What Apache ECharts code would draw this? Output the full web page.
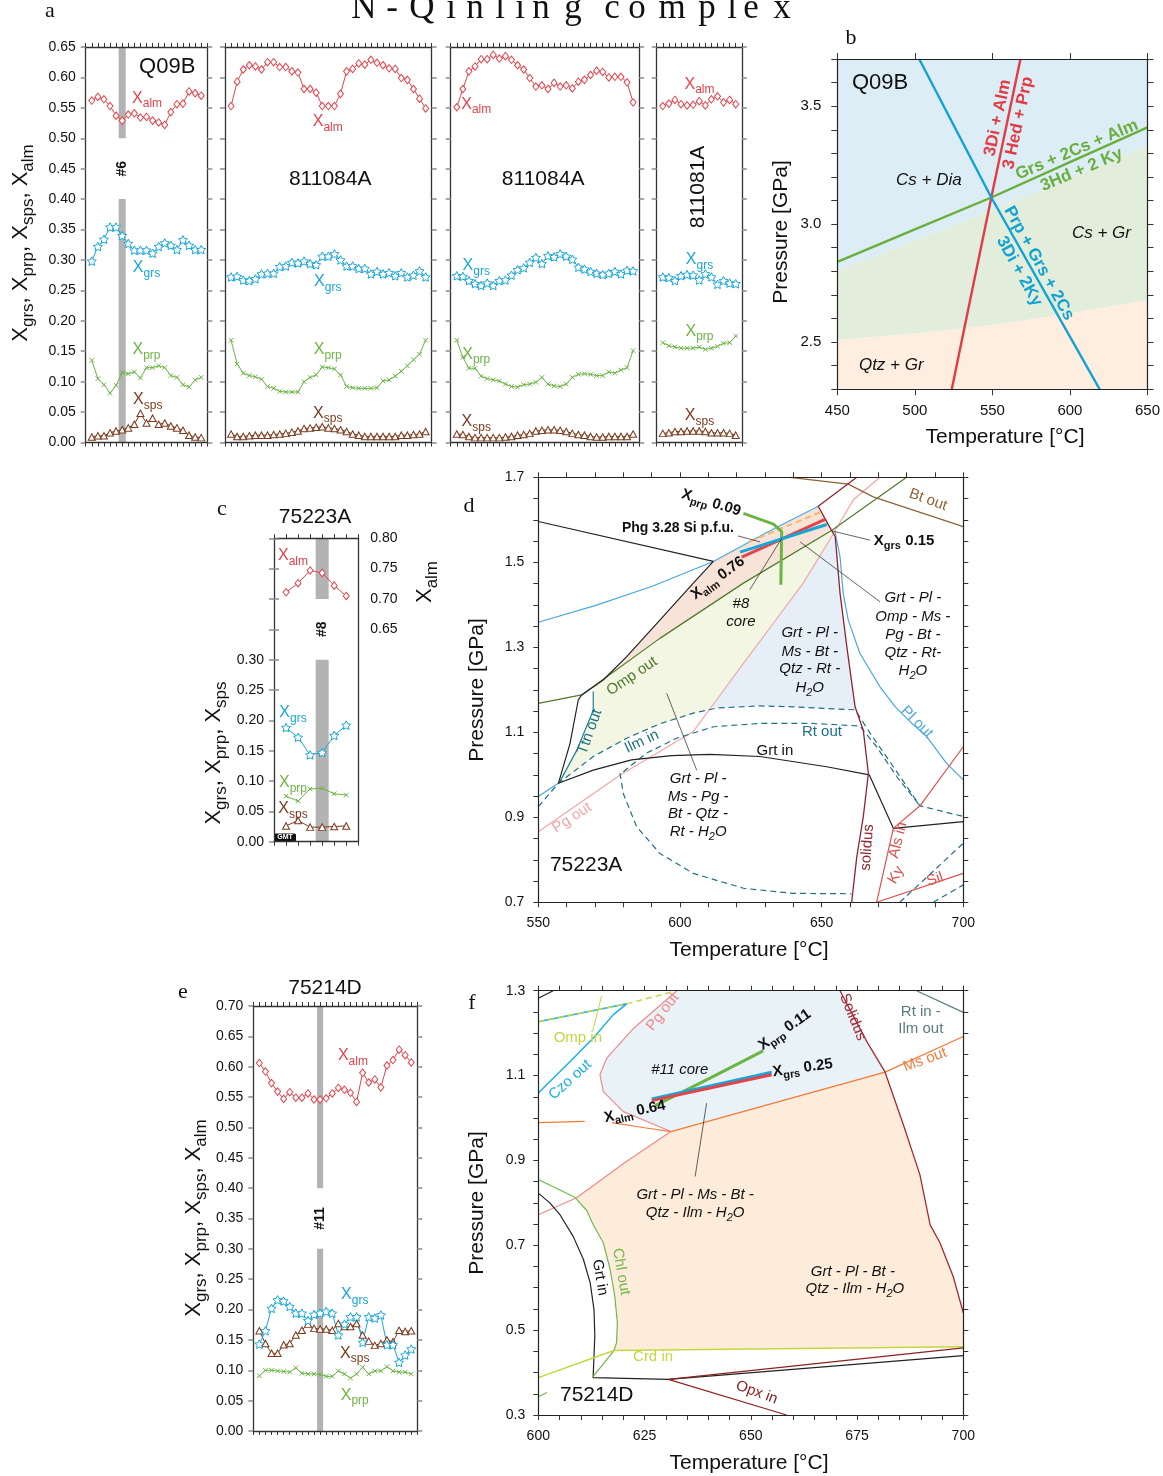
<!DOCTYPE html>
<html>
<head>
<meta charset="utf-8">
<script src="https://cdn.jsdelivr.net/npm/echarts@6/dist/echarts.min.js"></script>
<style>
  html, body { margin: 0; padding: 0; background: #fff; }
  #chart { width: 1163px; height: 1476px; }
</style>
</head>
<body>
<div id="chart"></div>
<script>
// ---------- garnet profiles (panel a, c, e) ----------
const q09bAlm = [0.562,0.568,0.564,0.553,0.537,0.529,0.539,0.541,0.534,0.535,0.529,0.526,0.522,0.543,0.556,0.557,0.577,0.574,0.570];
const q09bGrs = [0.298,0.322,0.334,0.354,0.354,0.340,0.327,0.316,0.316,0.316,0.311,0.322,0.328,0.324,0.317,0.333,0.324,0.317,0.317];
const q09bPrp = [0.135,0.105,0.095,0.081,0.094,0.115,0.113,0.116,0.106,0.123,0.123,0.126,0.123,0.110,0.107,0.095,0.091,0.103,0.107];
const q09bSps = [0.009,0.011,0.011,0.016,0.019,0.021,0.024,0.030,0.048,0.032,0.040,0.030,0.032,0.027,0.024,0.020,0.012,0.009,0.008];

const s084aAlm = [0.553,0.593,0.613,0.620,0.618,0.613,0.625,0.625,0.617,0.617,0.610,0.608,0.581,0.581,0.575,0.553,0.553,0.553,0.573,0.610,0.614,0.623,0.621,0.629,0.624,0.620,0.615,0.614,0.599,0.596,0.581,0.565,0.549];
const s084aGrs = [0.272,0.273,0.267,0.266,0.269,0.277,0.278,0.278,0.289,0.290,0.296,0.295,0.298,0.294,0.292,0.306,0.306,0.310,0.300,0.290,0.290,0.286,0.286,0.277,0.281,0.277,0.279,0.274,0.279,0.272,0.275,0.282,0.272];
const s084aPrp = [0.168,0.129,0.114,0.110,0.108,0.104,0.092,0.089,0.084,0.083,0.083,0.083,0.100,0.107,0.111,0.124,0.123,0.121,0.111,0.092,0.090,0.089,0.089,0.089,0.090,0.101,0.103,0.109,0.117,0.126,0.136,0.145,0.168];
const s084aSps = [0.014,0.010,0.010,0.011,0.012,0.012,0.012,0.013,0.014,0.015,0.017,0.019,0.023,0.024,0.025,0.026,0.024,0.023,0.021,0.018,0.014,0.012,0.010,0.010,0.010,0.010,0.010,0.010,0.012,0.012,0.013,0.014,0.018];

const s084bAlm = [0.551,0.581,0.610,0.618,0.630,0.630,0.637,0.631,0.635,0.629,0.620,0.613,0.599,0.585,0.587,0.581,0.591,0.585,0.587,0.582,0.593,0.596,0.604,0.611,0.609,0.600,0.601,0.601,0.592,0.559];
const s084bGrs = [0.274,0.273,0.266,0.261,0.258,0.262,0.258,0.266,0.267,0.275,0.284,0.287,0.296,0.304,0.294,0.307,0.305,0.310,0.306,0.301,0.288,0.285,0.281,0.278,0.276,0.278,0.281,0.277,0.283,0.282];
const s084bPrp = [0.168,0.140,0.122,0.122,0.109,0.105,0.103,0.101,0.096,0.092,0.091,0.095,0.096,0.099,0.107,0.096,0.093,0.092,0.096,0.107,0.112,0.113,0.112,0.110,0.110,0.116,0.114,0.119,0.123,0.151];
const s084bSps = [0.014,0.013,0.010,0.008,0.008,0.008,0.008,0.008,0.009,0.010,0.012,0.013,0.015,0.019,0.020,0.021,0.021,0.020,0.018,0.015,0.013,0.012,0.010,0.009,0.009,0.010,0.010,0.010,0.010,0.014];

const s081Alm = [0.553,0.557,0.563,0.556,0.554,0.555,0.561,0.554,0.564,0.569,0.559,0.563,0.556];
const s081Grs = [0.272,0.271,0.266,0.274,0.276,0.275,0.267,0.277,0.272,0.260,0.266,0.262,0.261];
const s081Prp = [0.164,0.159,0.157,0.155,0.155,0.155,0.157,0.153,0.155,0.158,0.163,0.164,0.175];
const s081Sps = [0.015,0.016,0.018,0.018,0.019,0.019,0.019,0.018,0.016,0.016,0.016,0.015,0.012];

const s223Alm = [0.711,0.726,0.747,0.743,0.722,0.705];
const s223Grs = [0.188,0.172,0.143,0.147,0.175,0.192];
const s223Prp = [0.075,0.067,0.087,0.088,0.079,0.077];
const s223Sps = [0.026,0.035,0.024,0.024,0.025,0.026];

const s214Alm = [0.606,0.592,0.573,0.559,0.547,0.558,0.549,0.549,0.556,0.546,0.546,0.548,0.556,0.565,0.562,0.557,0.542,0.590,0.574,0.579,0.566,0.602,0.611,0.628,0.619,0.607];
const s214Grs = [0.143,0.165,0.202,0.216,0.214,0.205,0.194,0.194,0.182,0.192,0.194,0.197,0.194,0.158,0.176,0.188,0.188,0.146,0.188,0.186,0.191,0.142,0.142,0.113,0.125,0.135];
const s214Sps = [0.165,0.144,0.128,0.128,0.142,0.144,0.158,0.166,0.176,0.169,0.168,0.168,0.166,0.177,0.172,0.172,0.177,0.158,0.148,0.141,0.144,0.150,0.147,0.166,0.164,0.165];
const s214Prp = [0.091,0.100,0.100,0.099,0.098,0.097,0.104,0.095,0.094,0.094,0.093,0.090,0.090,0.099,0.094,0.087,0.094,0.105,0.094,0.099,0.099,0.106,0.099,0.097,0.097,0.094];

// analysed spot positions (profile index) and the grey band spans
const q09bSpot = 6,  q09bSpans = [[0, 0.40], [0.50, 0.65]];
const s223Spot = 4,  s223Spans = [[0, 0.30], [0.40, 0.50]];   // left-axis units
const s214Spot = 11, s214Spans = [[0, 0.30], [0.40, 0.70]];

// ---------- panel b: Q09B reactions [T °C, P GPa] ----------
const bDiaGr   = [[450,2.802],[500,2.93],[550,3.06],[600,3.195],[650,3.334]];
const bCsQtz   = [[450,2.509],[500,2.537],[550,2.573],[600,2.622],[650,2.679]];
const bGrsRxn  = [[450,2.84],[500,2.978],[549.3,3.113],[600,3.263],[650,3.41]];
const bDiAlmRxn = [[523.8,2.30],[549.3,3.113],[568.1,3.70]];
const bPrpRxn  = [[502.8,3.70],[549.3,3.113],[619.2,2.30]];

// ---------- panel d: 75223A pseudosection ----------
const dBlackUpper = [[550,1.596],[611.8,1.502]];
const dBlackSteep = [[611.8,1.502],[604.7,1.451],[592.9,1.364],[581.2,1.278],[572.9,1.223],[565.3,1.188],[564.1,1.176],[561.2,1.074],[557.1,0.980]];
const dPlLeft  = [[550,1.359],[570,1.398],[590,1.443],[611.8,1.502],[630.6,1.570],[648.8,1.632]];
const dPlLow   = [[550,0.949],[557.1,0.980]];
const dPlOut   = [[654.7,1.572],[656.5,1.513],[657.6,1.427],[659.4,1.364],[663.5,1.286],[670.6,1.207],[676,1.16],[682,1.12],[687.1,1.09],[694.1,1.027],[700,0.988]];
const dOmpOut  = [[550,1.168],[565.3,1.188],[592.9,1.321],[622.4,1.451],[653.5,1.575],[680,1.70]];
const dPgOut   = [[550,0.866],[578.8,0.999],[604.7,1.102],[612.9,1.176],[622.4,1.262],[632.9,1.356],[643.5,1.451],[653.5,1.56],[661.2,1.647],[670.6,1.70]];
const dSolidus = [[662.4,1.70],[648.8,1.632],[652.4,1.588],[654.8,1.560],[656.5,1.427],[658.9,1.301],[661.8,1.160],[664.7,1.105],[666.5,1.003],[664.7,0.901],[662.4,0.807],[660.6,0.700]];
const dTtnOut  = [[569.4,1.196],[569.4,1.152],[563.6,1.058],[557.6,0.984]];
const dIlmIn   = [[550,0.925],[557.1,0.980],[569.4,1.043],[581.2,1.086],[592.9,1.120],[604.7,1.145],[612.9,1.157],[628.2,1.162],[640,1.160],[651.8,1.156],[661.8,1.153],[667.1,1.098],[675.3,1.019],[684.7,0.927],[700,0.902]];
const dRtOut   = [[580.0,1.007],[588.2,1.051],[598.8,1.086],[611.8,1.113],[628.2,1.121],[645.9,1.121],[663.5,1.115],[669.4,1.066],[676.5,0.996],[684.7,0.927]];
const dIlmLoop = [[578.8,1.004],[580,0.956],[584.7,0.878],[592.9,0.815],[604.7,0.768],[622.4,0.733],[640,0.721],[660.5,0.720]];
const dDashLR1 = [[677.6,0.70],[700,0.839]];
const dDashLR2 = [[689.4,0.70],[700,0.741]];
const dGrtIn   = [[557.1,0.980],[569.4,1.011],[582.9,1.035],[597,1.045],[610.6,1.048],[628.2,1.043],[651.8,1.019],[666.8,1.000],[675.3,0.874],[700,0.890]];
const dAlsIn   = [[700,1.066],[684.7,0.927],[675.3,0.874],[669.4,0.700]];
const dKySil   = [[669.4,0.700],[700,0.768]];
const dBtOut   = [[638.8,1.70],[659.4,1.684],[668.2,1.654],[700,1.584]];
const dPhg     = [[624.6,1.549],[650,1.619]];
const dXalm    = [[621.8,1.512],[651.2,1.601]];
const dXgrs    = [[621.2,1.524],[651.8,1.589]];
const dXprp    = [[622.4,1.615],[633.0,1.590],[635.9,1.572],[635.6,1.447]];
const dPeach = [[565.3,1.188],[572.9,1.223],[581.2,1.278],[592.9,1.364],[604.7,1.451],[611.8,1.502],[630.6,1.570],[648.8,1.632],[652.4,1.588],[653.5,1.575],[622.4,1.451],[592.9,1.321]];
const dGreen = [[557.6,0.984],[563.6,1.058],[569.4,1.152],[569.4,1.207],[592.9,1.321],[622.4,1.451],[653.5,1.575],[653.5,1.56],[643.5,1.451],[632.9,1.356],[622.4,1.262],[612.9,1.176],[611,1.159],[604.7,1.145],[592.9,1.120],[581.2,1.086],[569.4,1.043],[557.1,0.980]];
const dBlue  = [[653.5,1.56],[643.5,1.451],[632.9,1.356],[622.4,1.262],[612.9,1.176],[611,1.159],[612.9,1.157],[628.2,1.162],[640,1.160],[651.8,1.156],[662.0,1.155],[658.9,1.301],[656.5,1.427],[654.8,1.560]];

// ---------- panel f: 75214D pseudosection ----------
const fPgOut   = [[632.6,1.30],[622.4,1.211],[616.1,1.141],[614.5,1.102],[615.3,1.062],[620.0,1.015],[631.2,0.968],[620.8,0.898],[609.0,0.812],[600,0.772]];
const fMsOutW  = [[600,0.989],[610.9,0.992]];
const fMsOutE  = [[617.3,0.989],[625,0.977],[631.2,0.968],[681.6,1.108],[700,1.192]];
const fSolidus = [[671.0,1.30],[677.3,1.18],[681.6,1.108],[685.9,0.984],[689.8,0.866],[692.2,0.748],[694.5,0.706],[697.6,0.627],[700,0.541]];
const fCzoOut  = [[600,1.059],[607.5,1.133],[612.9,1.188],[617.6,1.243],[620.8,1.269],[600,1.227]];
const fOmpDash = [[600,1.227],[620.8,1.269],[631.8,1.298]];
const fOmpIn   = [[614.9,1.288],[612.8,1.204]];
const fGrtIn   = [[600,0.823],[602.7,0.800],[605.1,0.772],[608.2,0.721],[610.6,0.667],[612.2,0.612],[613.1,0.549],[613.3,0.487],[613.1,0.439],[612.9,0.388],[630.6,0.384],[700,0.440]];
const fGrtTop  = [[600,1.282],[603.5,1.30]];
const fChlOut  = [[600,0.855],[608.6,0.813],[611.4,0.782],[612.9,0.749],[615.3,0.706],[616.9,0.643],[618.0,0.580],[618.6,0.517],[618.4,0.470],[617.8,0.452],[612.7,0.388]];
const fCrdIn   = [[600,0.388],[617.8,0.452],[700,0.461]];
const fOpxIn   = [[658.4,0.30],[630.6,0.384],[700,0.458]];
const fRtIn    = [[689.0,1.30],[700,1.249]];
const fTick    = [[600,0.343],[602.0,0.353]];
const fXprp    = [[627.5,1.029],[640.4,1.094],[652.9,1.158]];
const fXgrs    = [[626.7,1.045],[654.9,1.108]];
const fXalm    = [[626.7,1.041],[654.9,1.102]];
const fBlue  = [[632.6,1.30],[622.4,1.211],[616.1,1.141],[614.5,1.102],[615.3,1.062],[620.0,1.015],[631.2,0.968],[681.6,1.108],[677.3,1.18],[671.0,1.30]];
const fPeach = [[631.2,0.968],[620.8,0.898],[608.8,0.812],[611.4,0.782],[612.9,0.749],[615.3,0.706],[616.9,0.643],[618.0,0.580],[618.6,0.517],[618.4,0.470],[617.8,0.452],[700,0.461],[700,0.541],[697.6,0.627],[694.5,0.706],[692.2,0.748],[689.8,0.866],[685.9,0.984],[681.6,1.108]];

// ---------- drawing ----------
const FONT = "'Liberation Sans', Arial, Helvetica, sans-serif";
const SERIF = "'Liberation Serif', 'Times New Roman', serif";
const RED = '#e5424a', BLUE = '#17a6d8', GREEN = '#6cb444', BROWN = '#7b3a1d';
const SYM_STAR = 'path://M0,-10L2.94,-4.05L9.51,-3.09L4.76,1.55L5.88,8.09L0,5L-5.88,8.09L-4.76,1.55L-9.51,-3.09L-2.94,-4.05Z';
const SYM_X = 'path://M0,0L10,10M0,10L10,0';

const grids = [], xAxes = [], yAxes = [], series = [], graphics = [];

function ts(text, o) {
  o = o || {};
  const size = o.size || 15, sub = o.sub || Math.round(size * 0.75);
  const color = o.color || '#111', weight = o.weight || 'normal';
  const fst = o.italic ? 'italic' : 'normal', fam = o.family || FONT, al = o.align || 'center';
  return {
    text: text, fill: color, fontSize: size, fontFamily: fam, fontWeight: weight, fontStyle: fst,
    align: al, textAlign: al, verticalAlign: 'middle', textVerticalAlign: 'middle',
    rich: { s: { fontSize: sub, fontFamily: fam, fontWeight: weight, fontStyle: fst, fill: color,
                 padding: [Math.round(size * 0.68), 0, 0, 0] } }
  };
}

function panel(box, xs, ys, o) {
  o = o || {};
  const gi = grids.length;
  grids.push({ left: box[0], top: box[1], width: box[2], height: box[3] });
  const line = { show: true, onZero: false, lineStyle: { color: o.frame || '#222', width: o.frameW || 1.2 } };
  const xt = { show: true, inside: false, length: xs.tickLen || 4, lineStyle: { color: xs.tickColor || '#333', width: 1 } };
  const yt = { show: true, inside: false, length: ys.tickLen || 5, lineStyle: { color: ys.tickColor || '#333', width: ys.tickW || 1 } };
  const lab = (fmt, margin) => fmt ? { show: true, formatter: fmt, fontSize: o.labSize || 14, fontFamily: FONT, color: '#111', margin: margin } : { show: false };
  const xb = { type: 'value', gridIndex: gi, min: xs.min, max: xs.max, interval: xs.interval, splitLine: { show: false }, axisLine: line, axisTick: xt, z: 10 };
  const yb = { type: 'value', gridIndex: gi, min: ys.min, max: ys.max, interval: ys.interval, splitLine: { show: false }, axisLine: line, axisTick: yt, z: 10 };
  const xi = xAxes.length, yi = yAxes.length;
  xAxes.push(Object.assign({}, xb, { position: 'bottom', axisLabel: lab(xs.fmt, xs.margin) }));
  xAxes.push(Object.assign({}, xb, { position: 'top', axisLabel: { show: false } }));
  yAxes.push(Object.assign({}, yb, { position: 'left', axisLabel: lab(ys.fmt, ys.margin) }));
  yAxes.push(Object.assign({}, yb, { position: 'right', axisLabel: { show: false },
    axisTick: ys.rightTick === false ? { show: false } : yt }));
  return { x: xi, y: yi };
}

const KIND = {
  alm: { c: RED, sym: 'diamond', size: [6, 7.5], keep: false },
  grs: { c: BLUE, sym: SYM_STAR, size: 9, keep: true },
  prp: { c: GREEN, sym: SYM_X, size: 4.5, keep: true },
  sps: { c: BROWN, sym: 'triangle', size: [7, 6.5], keep: false }
};
function profile(ax, vals, kind) {
  const k = KIND[kind];
  series.push({
    type: 'line', xAxisIndex: ax.x, yAxisIndex: ax.y, silent: true, z: 6, animation: false,
    data: vals.map((v, i) => [i + 1, v]),
    symbol: k.sym, symbolSize: k.size, symbolKeepAspect: k.keep, showSymbol: true, showAllSymbol: true,
    lineStyle: { color: k.c, width: 1 },
    itemStyle: { color: '#fff', borderColor: k.c, borderWidth: 1 },
    emphasis: { disabled: true }
  });
}
function band(ax, x, spans, halfW) {
  series.push({
    type: 'custom', xAxisIndex: ax.x, yAxisIndex: ax.y, silent: true, z: 3,
    data: spans.map(s => [x, s[0], s[1]]),
    renderItem(p, api) {
      const a = api.coord([api.value(0) - halfW, api.value(2)]);
      const b = api.coord([api.value(0) + halfW, api.value(1)]);
      return { type: 'rect', shape: { x: a[0], y: a[1], width: b[0] - a[0], height: b[1] - a[1] }, style: { fill: '#b3b3b3' } };
    }
  });
}
function curve(ax, pts, color, width, dash, z) {
  series.push({
    type: 'line', xAxisIndex: ax.x, yAxisIndex: ax.y, silent: true, z: z || 4, animation: false,
    data: pts, symbol: 'none', showSymbol: false,
    lineStyle: { color: color, width: width, type: dash ? [6, 4] : 'solid', cap: 'butt' },
    emphasis: { disabled: true }
  });
}
function region(ax, pts, color) {
  series.push({
    type: 'custom', xAxisIndex: ax.x, yAxisIndex: ax.y, silent: true, z: 1,
    data: [pts[0]],
    renderItem(p, api) {
      return { type: 'polygon', shape: { points: pts.map(q => api.coord(q)) }, style: { fill: color } };
    }
  });
}
function texts(ax, items, base) {
  series.push({
    type: 'custom', xAxisIndex: ax.x, yAxisIndex: ax.y, silent: true, z: 20,
    data: items.map(it => [it[0], it[1]]),
    renderItem(p, api) {
      const it = items[p.dataIndex];
      const pt = api.coord([it[0], it[1]]);
      return { type: 'text', x: pt[0], y: pt[1], rotation: (it[3] || 0) * Math.PI / 180,
               style: ts(it[2], Object.assign({}, base, it[4] || {})) };
    }
  });
}
function gtext(x, y, text, o, rot) {
  graphics.push({ type: 'text', x: x, y: y, rotation: (rot || 0) * Math.PI / 180, silent: true, z: 100, style: ts(text, o) });
}

const f2 = v => v.toFixed(2);
const Y_TICK = { tickColor: '#8c8c8c', tickW: 1.5, tickLen: 5 };
const A_FRAME = { frame: '#333', frameW: 1.3 };

// ---- panel a ----
const a1 = panel([85.7, 47, 121.6, 395.5], { min: 0, max: 20, interval: 1 },
  Object.assign({ min: 0, max: 0.65, interval: 0.05, fmt: f2, margin: 10 }, Y_TICK), A_FRAME);
const a2 = panel([225, 47, 206.7, 395.5], { min: 0, max: 34, interval: 1 },
  Object.assign({ min: 0, max: 0.65, interval: 0.05 }, Y_TICK), A_FRAME);
const a3 = panel([450.7, 47, 188.5, 395.5], { min: 0, max: 31, interval: 1 },
  Object.assign({ min: 0, max: 0.65, interval: 0.05 }, Y_TICK), A_FRAME);
const a4 = panel([656.7, 47, 85.1, 395.5], { min: 0, max: 14, interval: 1 },
  Object.assign({ min: 0, max: 0.65, interval: 0.05 }, Y_TICK), A_FRAME);

band(a1, q09bSpot, q09bSpans, 0.58);
[[a1, q09bAlm, q09bGrs, q09bPrp, q09bSps], [a2, s084aAlm, s084aGrs, s084aPrp, s084aSps],
 [a3, s084bAlm, s084bGrs, s084bPrp, s084bSps], [a4, s081Alm, s081Grs, s081Prp, s081Sps]].forEach(r => {
  profile(r[0], r[1], 'alm'); profile(r[0], r[2], 'grs'); profile(r[0], r[3], 'prp'); profile(r[0], r[4], 'sps');
});
const LAB = { size: 16 };
texts(a1, [[10.1, 0.566, 'X{s|alm}', 0, { color: RED }], [10.0, 0.287, 'X{s|grs}', 0, { color: BLUE }],
  [10.0, 0.152, 'X{s|prp}', 0, { color: GREEN }], [10.2, 0.070, 'X{s|sps}', 0, { color: BROWN }],
  [13.4, 0.617, 'Q09B', 0, { size: 22 }], [6, 0.45, '#6', 90, { size: 14, weight: 'bold' }]], LAB);
texts(a2, [[16.9, 0.527, 'X{s|alm}', 0, { color: RED }], [16.9, 0.264, 'X{s|grs}', 0, { color: BLUE }],
  [16.9, 0.152, 'X{s|prp}', 0, { color: GREEN }], [16.9, 0.048, 'X{s|sps}', 0, { color: BROWN }],
  [17.3, 0.433, '811084A', 0, { size: 21 }]], LAB);
texts(a3, [[4.2, 0.556, 'X{s|alm}', 0, { color: RED }], [4.2, 0.290, 'X{s|grs}', 0, { color: BLUE }],
  [4.2, 0.145, 'X{s|prp}', 0, { color: GREEN }], [4.2, 0.034, 'X{s|sps}', 0, { color: BROWN }],
  [15.2, 0.433, '811084A', 0, { size: 21 }]], LAB);
texts(a4, [[7.04, 0.589, 'X{s|alm}', 0, { color: RED }], [7.04, 0.300, 'X{s|grs}', 0, { color: BLUE }],
  [7.04, 0.183, 'X{s|prp}', 0, { color: GREEN }], [7.04, 0.044, 'X{s|sps}', 0, { color: BROWN }],
  [6.8, 0.42, '811081A', 90, { size: 21 }]], LAB);

// ---- panel b ----
const halfLab = v => (Math.abs(v * 2 - Math.round(v * 2)) < 1e-6 ? v.toFixed(1) : '');
const b = panel([837.3, 59, 314.4, 330.3], { min: 450, max: 650, interval: 50, fmt: v => String(v), margin: 14, tickLen: 6 },
  { min: 2.3, max: 3.7, interval: 0.1, fmt: halfLab, margin: 16, tickLen: 6 }, { labSize: 15 });
region(b, [[450, 2.3]].concat(bCsQtz, [[650, 2.3]]), '#fdeedf');
region(b, bCsQtz.concat(bDiaGr.slice().reverse()), '#e2eedb');
region(b, bDiaGr.concat([[650, 3.7], [450, 3.7]]), '#dcedf5');
curve(b, bGrsRxn, '#6aae3c', 2.4);
curve(b, bDiAlmRxn, '#e23c44', 2.4);
curve(b, bPrpRxn, '#13a2d4', 2.4);
texts(b, [[459.4, 3.598, 'Q09B', 0, { size: 22, align: 'left' }],
  [509, 3.188, 'Cs + Dia', 0, { italic: true }], [620.3, 2.963, 'Cs + Gr', 0, { italic: true }],
  [484.8, 2.403, 'Qtz + Gr', 0, { italic: true }]], { size: 17 });
texts(b, [[553.5, 3.450, '3Di + Alm', 78], [566.7, 3.429, '3 Hed + Prp', 78]], { size: 17, weight: 'bold', color: '#e23c44' });
texts(b, [[604.4, 3.315, 'Grs + 2Cs + Alm', 23], [607.6, 3.23, '3Hd + 2 Ky', 23]], { size: 17, weight: 'bold', color: '#6aae3c' });
texts(b, [[580.0, 2.834, 'Prp + Grs + 2Cs', -61], [567.3, 2.80, '3Di + 2Ky', -61]], { size: 17, weight: 'bold', color: '#13a2d4' });

// ---- panel c ----
const c = panel([274, 538.3, 84.3, 303.4], { min: 0, max: 7, interval: 1 },
  Object.assign({ min: 0, max: 0.5, interval: 0.05, fmt: v => (v < 0.301 ? f2(v) : ''), margin: 10, rightTick: false }, Y_TICK), A_FRAME);
// right-hand Xalm scale covers the upper half of the frame
const cRgi = grids.length;
grids.push({ left: 274, top: 538.3, width: 84.3, height: 151.7 });
const cR = { x: xAxes.length, y: yAxes.length };
xAxes.push({ type: 'value', gridIndex: cRgi, min: 0, max: 7, show: false });
yAxes.push({ type: 'value', gridIndex: cRgi, min: 0.55, max: 0.80, interval: 0.05, position: 'right', z: 10,
  splitLine: { show: false }, axisLine: { show: false },
  axisTick: { show: true, inside: false, length: 5, lineStyle: { color: '#8c8c8c', width: 1.5 } },
  axisLabel: { show: true, margin: 12, fontSize: 14, fontFamily: FONT, color: '#111', formatter: v => (v > 0.649 ? f2(v) : '') } });
band(c, s223Spot, s223Spans, 0.54);
profile(cR, s223Alm, 'alm'); profile(c, s223Grs, 'grs'); profile(c, s223Prp, 'prp'); profile(c, s223Sps, 'sps');
texts(c, [[1.58, 0.471, 'X{s|alm}', 0, { color: RED }], [1.58, 0.212, 'X{s|grs}', 0, { color: BLUE }],
  [1.58, 0.097, 'X{s|prp}', 0, { color: GREEN }], [1.58, 0.054, 'X{s|sps}', 0, { color: BROWN }],
  [4, 0.35, '#8', 90, { size: 14, weight: 'bold' }]], LAB);

// ---- panel d ----
const d = panel([538.3, 477.3, 425, 425],
  { min: 550, max: 700, interval: 10, fmt: v => (v % 50 === 0 ? String(v) : ''), margin: 14, tickLen: 5 },
  { min: 0.7, max: 1.7, interval: 0.05, fmt: v => { const k = (v - 0.7) / 0.2; return Math.abs(k - Math.round(k)) < 1e-6 ? v.toFixed(1) : ''; }, margin: 14, tickLen: 5 });
region(d, dPeach, '#f8e3d9');
region(d, dGreen, '#f2f6e2');
region(d, dBlue, '#e6eef7');
curve(d, dPlLeft, '#4aa8dc', 1.2); curve(d, dPlLow, '#4aa8dc', 1.2); curve(d, dPlOut, '#4aa8dc', 1.2);
curve(d, dPgOut, '#f4a6a6', 1.2);
curve(d, dOmpOut, '#4f7a2c', 1.2);
curve(d, dBtOut, '#8c6239', 1.2);
curve(d, dTtnOut, '#1d7f95', 1.2);
curve(d, dIlmIn, '#1f6f86', 1.2, true); curve(d, dRtOut, '#1f6f86', 1.2, true); curve(d, dIlmLoop, '#1f6f86', 1.2, true);
curve(d, dDashLR1, '#1f6f86', 1.2, true); curve(d, dDashLR2, '#1f6f86', 1.2, true);
curve(d, dBlackUpper, '#222', 1.2); curve(d, dBlackSteep, '#222', 1.2); curve(d, dGrtIn, '#222', 1.2);
curve(d, dSolidus, '#8e2430', 1.3);
curve(d, dAlsIn, '#d9534f', 1.2); curve(d, dKySil, '#d9534f', 1.2);
curve(d, dPhg, '#f7b56b', 2, true, 7);
curve(d, dXprp, '#6cb444', 3, false, 8); curve(d, dXalm, '#e5424a', 3, false, 8); curve(d, dXgrs, '#17a6d8', 3, false, 8);
curve(d, [[624.6, 1.435], [635.9, 1.556]], '#222', 0.7, false, 9);
curve(d, [[620.5, 1.562], [628.3, 1.548]], '#222', 0.7, false, 9);
curve(d, [[667.1, 1.552], [653.6, 1.574]], '#222', 0.7, false, 9);
curve(d, [[670.6, 1.407], [642.4, 1.548]], '#222', 0.7, false, 9);
curve(d, [[605.9, 1.011], [595.3, 1.192]], '#222', 0.7, false, 9);
texts(d, [[611.0, 1.640, 'X{s|prp} 0.09', -17], [599.3, 1.581, 'Phg 3.28 Si p.f.u.', 0, { size: 14 }],
  [679.1, 1.550, 'X{s|grs} 0.15', 0], [613.4, 1.463, 'X{s|alm} 0.76', 36]], { size: 15, weight: 'bold' });
texts(d, [[621.5, 1.402, '#8'], [621.5, 1.360, 'core'],
  [682.2, 1.416, 'Grt - Pl -'], [682.2, 1.371, 'Omp - Ms -'], [682.2, 1.329, 'Pg - Bt -'], [682.2, 1.287, 'Qtz - Rt-'], [682.2, 1.244, 'H{s|2}O'],
  [645.8, 1.334, 'Grt - Pl -'], [645.8, 1.289, 'Ms - Bt -'], [645.8, 1.249, 'Qtz - Rt -'], [645.8, 1.204, 'H{s|2}O'],
  [606.4, 0.991, 'Grt - Pl -'], [606.4, 0.948, 'Ms - Pg -'], [606.4, 0.908, 'Bt - Qtz -'], [606.4, 0.866, 'Rt - H{s|2}O']],
  { size: 15, italic: true });
texts(d, [[583.1, 1.232, 'Omp out', 34, { color: '#4f7a2c' }], [687.6, 1.647, 'Bt out', -20, { color: '#8c6239' }],
  [633.5, 1.057, 'Grt in', 0, { color: '#111' }], [650.1, 1.101, 'Rt out', 0, { color: '#1f6f86' }],
  [586.5, 1.078, 'Ilm in', 25, { color: '#1f6f86' }], [568.2, 1.101, 'Ttn out', 70, { color: '#1f6f86' }],
  [561.9, 0.899, 'Pg out', 33, { color: '#f4a6a6' }], [683.6, 1.124, 'Pl out', -45, { color: '#4aa8dc' }],
  [666.1, 0.829, 'solidus', 86, { color: '#8e2430' }], [677.0, 0.846, 'Als in', 76, { color: '#d9534f' }],
  [676.3, 0.764, 'Ky', 60, { color: '#d9534f' }], [690.0, 0.754, 'Sil', 19, { color: '#d9534f' }],
  [554.1, 0.7865, '75223A', 0, { size: 21, align: 'left' }]], { size: 15 });

// ---- panel e ----
const e = panel([253.3, 1006, 164, 425], { min: 0, max: 27, interval: 1 },
  Object.assign({ min: 0, max: 0.7, interval: 0.05, fmt: f2, margin: 10 }, Y_TICK), A_FRAME);
band(e, s214Spot, s214Spans, 0.5);
profile(e, s214Alm, 'alm'); profile(e, s214Sps, 'sps'); profile(e, s214Prp, 'prp'); profile(e, s214Grs, 'grs');
texts(e, [[16.4, 0.618, 'X{s|alm}', 0, { color: RED }], [16.7, 0.224, 'X{s|grs}', 0, { color: BLUE }],
  [16.7, 0.128, 'X{s|sps}', 0, { color: BROWN }], [16.7, 0.059, 'X{s|prp}', 0, { color: GREEN }],
  [11, 0.35, '#11', 90, { size: 14, weight: 'bold' }]], LAB);

// ---- panel f ----
const f = panel([538.3, 990.7, 425, 424.3],
  { min: 600, max: 700, interval: 5, fmt: v => (v % 25 === 0 ? String(v) : ''), margin: 14, tickLen: 5 },
  { min: 0.3, max: 1.3, interval: 0.05, fmt: v => { const k = (v - 0.3) / 0.2; return Math.abs(k - Math.round(k)) < 1e-6 ? v.toFixed(1) : ''; }, margin: 13, tickLen: 5 });
region(f, fBlue, '#e9f2f7');
region(f, fPeach, '#fcecd9');
curve(f, fPgOut, '#f08a8a', 1.2);
curve(f, fMsOutW, '#f07a3a', 1.2); curve(f, fMsOutE, '#f07a3a', 1.2);
curve(f, fSolidus, '#a52a34', 1.3);
curve(f, fCzoOut, '#1ab0e0', 1.5);
curve(f, fOmpDash, '#c5d640', 1.5, true, 5);
curve(f, fOmpIn, '#c5d640', 1);
curve(f, fGrtIn, '#222', 1.2); curve(f, fGrtTop, '#222', 1.2);
curve(f, fChlOut, '#72b84c', 1.2);
curve(f, fCrdIn, '#c5d640', 1.5);
curve(f, fOpxIn, '#8b2222', 1.2);
curve(f, fRtIn, '#5a7a80', 1.2);
curve(f, fTick, '#72b84c', 1.2);
curve(f, fXprp, '#6cb444', 3, false, 8); curve(f, fXgrs, '#17a6d8', 3, false, 8); curve(f, fXalm, '#e5424a', 3, false, 8);
curve(f, [[639.6, 1.035], [636.9, 0.862]], '#222', 0.7, false, 9);
texts(f, [[658.0, 1.2075, 'X{s|prp} 0.11', 35], [662.2, 1.118, 'X{s|grs} 0.25', 8], [622.7, 1.015, 'X{s|alm} 0.64', 12]],
  { size: 15, weight: 'bold' });
texts(f, [[633.3, 1.113, '#11 core'], [636.9, 0.819, 'Grt - Pl - Ms - Bt -'], [636.9, 0.777, 'Qtz - Ilm - H{s|2}O'],
  [674.0, 0.638, 'Grt - Pl - Bt -'], [674.5, 0.598, 'Qtz - Ilm - H{s|2}O']], { size: 15, italic: true });
texts(f, [[629.3, 1.250, 'Pg out', 52, { color: '#f08a8a' }], [674.0, 1.238, 'Solidus', -68, { color: '#a52a34' }],
  [690.0, 1.250, 'Rt in -', 0, { color: '#5a7a80' }], [690.0, 1.210, 'Ilm out', 0, { color: '#5a7a80' }],
  [691.0, 1.137, 'Ms out', 20, { color: '#f07a3a' }], [609.3, 1.189, 'Omp in', 0, { color: '#c5d640' }],
  [607.5, 1.090, 'Czo out', 42, { color: '#1ab0e0' }], [614.5, 0.624, 'Grt in', -80, { color: '#111' }],
  [619.5, 0.638, 'Chl out', -80, { color: '#72b84c' }], [627.0, 0.436, 'Crd in', 0, { color: '#c5d640' }],
  [651.4, 0.353, 'Opx in', -20, { color: '#8b2222' }],
  [605.1, 0.347, '75214D', 0, { size: 21, align: 'left' }]], { size: 15 });

// ---- titles, panel letters, axis names ----
[['N', 364], ['-', 392], ['Q', 422], ['i', 451], ['n', 475], ['l', 500], ['i', 520], ['n', 541], ['g', 573],
 ['c', 612], ['o', 637], ['m', 672], ['p', 707], ['l', 732], ['e', 751], ['x', 782]]
  .forEach(ch => gtext(ch[1], 9, ch[0], { size: 35, family: SERIF }));
[['a', 50, 11], ['b', 851, 38], ['c', 222, 509], ['d', 469, 506], ['e', 183, 992], ['f', 472, 1003]]
  .forEach(l => gtext(l[1], l[2], l[0], { size: 22, family: SERIF }));
const TITLE = { size: 21 };
const XT = { size: 22, sub: 17 };
gtext(21, 243, 'X{s|grs}, X{s|prp}, X{s|sps}, X{s|alm}', XT, 90);
gtext(781, 232, 'Pressure [GPa]', TITLE, 90);
gtext(1005, 437, 'Temperature [°C]', TITLE);
gtext(214, 753, 'X{s|grs}, X{s|prp}, X{s|sps}', XT, 90);
gtext(425, 582, 'X{s|alm}', XT, 90);
gtext(315, 517, '75223A', { size: 21 });
gtext(477, 690, 'Pressure [GPa]', TITLE, 90);
gtext(749, 950, 'Temperature [°C]', TITLE);
gtext(325, 988, '75214D', { size: 21 });
gtext(194, 1218, 'X{s|grs}, X{s|prp}, X{s|sps}, X{s|alm}', XT, 90);
gtext(477, 1203, 'Pressure [GPa]', TITLE, 90);
gtext(749, 1463, 'Temperature [°C]', TITLE);
graphics.push({ type: 'group', x: 274, y: 833.5, silent: true, z: 100, children: [
  { type: 'rect', shape: { x: 0, y: 0, width: 22, height: 8, r: 1.5 }, style: { fill: '#111' } },
  { type: 'text', x: 11, y: 4, style: ts('GMT', { size: 7, weight: 'bold', color: '#fff' }) }
] });

const chart = echarts.init(document.getElementById('chart'), null, { renderer: 'canvas', width: 1163, height: 1476 });
chart.setOption({
  animation: false,
  backgroundColor: '#fff',
  grid: grids,
  xAxis: xAxes,
  yAxis: yAxes,
  series: series,
  graphic: graphics
});
</script>
</body>
</html>
